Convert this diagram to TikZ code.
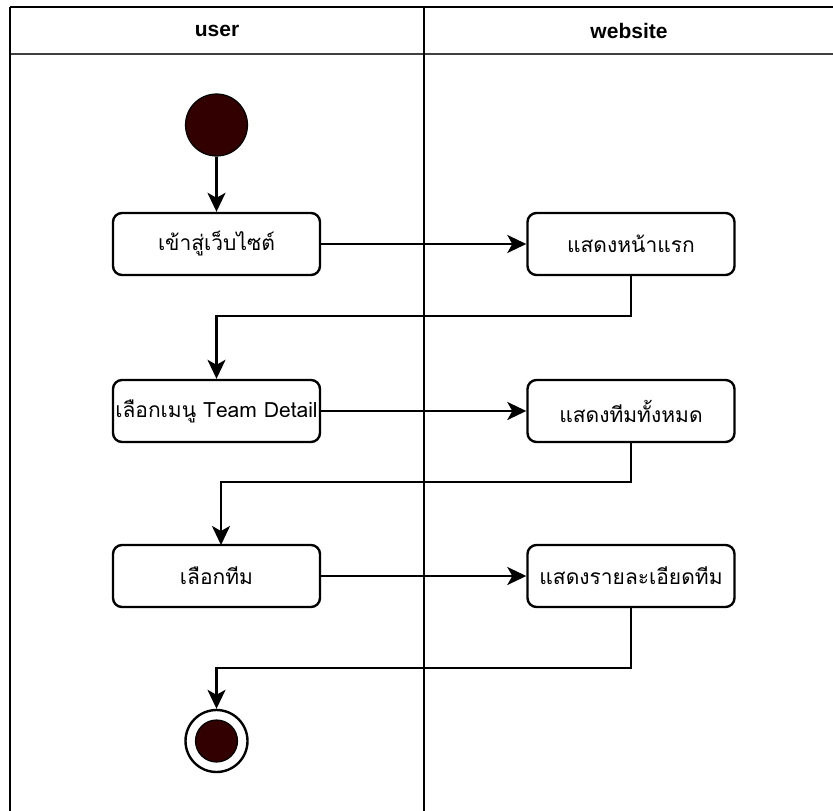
\documentclass[tikz,border=0pt]{standalone}
\usepackage{fontspec}
\setmainfont{Liberation Sans}
\newfontfamily\thaifont[Script=Thai]{Loma}
\usetikzlibrary{arrows.meta}
\definecolor{dot}{HTML}{330000}
\begin{document}
\begin{tikzpicture}[x=1pt,y=-1pt,
  lane/.style={line width=2.6pt,black},
  act/.style={draw,line width=2.4pt,rounded corners=9pt,minimum width=207pt,minimum height=62pt,font=\thaifont\fontsize{21}{24}\selectfont,inner sep=0pt},
  flow/.style={line width=2.4pt,-{Stealth[length=19pt,width=18pt,inset=5pt]}},
  head/.style={font=\bfseries\fontsize{21}{24}\selectfont}]
\useasboundingbox (0,0) rectangle (833,811);
% swimlanes
\draw[lane] (10,7) -- (833,7);
\draw[line width=2.8pt,black!75] (10,54) -- (833,54);
\draw[lane] (10,7) -- (10,811);
\draw[lane] (424,7) -- (424,811);
\node[head] (hu) at (217,31) {user};
\node[head] (hw) at (629,31) {website};
% nodes
\node[circle,fill=dot,draw=black,line width=1.2pt,minimum size=62pt,inner sep=0pt] (start) at (216.5,125) {};
\node[act] (a1) at (216.5,244) {เข้าสู่เว็บไซต์};
\node[act] (b1) at (631,244) {แสดงหน้าแรก};
\node[act] (a2) at (216.5,411) {เลือกเมนู Team Detail};
\node[act] (b2) at (631,411) {แสดงทีมทั้งหมด};
\node[act] (a3) at (216.5,576) {เลือกทีม};
\node[act] (b3) at (631,576) {แสดงรายละเอียดทีม};
\node[circle,draw=black,line width=2.4pt,fill=white,minimum size=62pt,inner sep=0pt] (end) at (216.5,741) {};
\node[circle,fill=dot,draw=black,line width=1.2pt,minimum size=42pt,inner sep=0pt] (endin) at (end) {};
% flows
\draw[flow] (start) -- (a1);
\draw[flow] (a1) -- (b1);
\draw[flow] (b1.south) -- (631,316) -- (216.5,316) -- (a2.north);
\draw[flow] (a2) -- (b2);
\draw[flow] (b2.south) -- (631,482) -- (221,482) -- (221,545);
\draw[flow] (a3) -- (b3);
\draw[flow] (b3.south) -- (631,668) -- (216.5,668) -- (end.north);
\end{tikzpicture}
\end{document}
